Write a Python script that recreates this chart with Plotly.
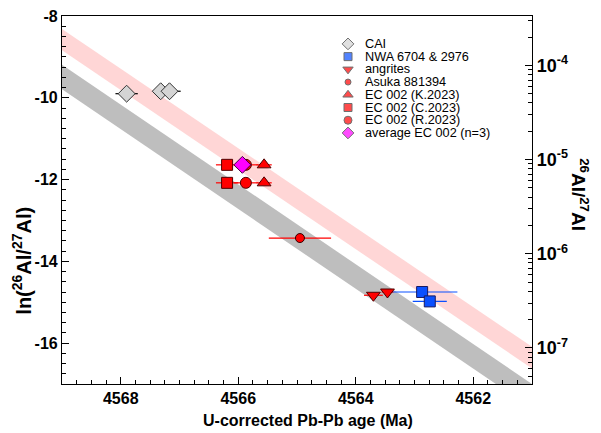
import numpy as np
import plotly.graph_objects as go

# ---------------- data ----------------
cai_age = [4567.90, 4567.32, 4567.17]
cai_err = [0.19, 0.13, 0.19]
cai_ln = [-9.90, -9.84, -9.84]

nwa_age = [4562.87, 4562.74]
nwa_err = [0.60, 0.29]
nwa_ln = [-14.75, -14.98]

ang_age = [4563.70, 4563.46]
ang_err = [0.16, 0.10]
ang_ln = [-14.83, -14.75]

asuka_age = [4564.95]
asuka_err = [0.53]
asuka_ln = [-13.43]

eck_age = [4565.56, 4565.56]
eck_err = [0.13, 0.13]
eck_ln = [-11.64, -12.08]

ecc_age = [4566.19, 4566.19]
ecc_err = [0.19, 0.19]
ecc_ln = [-11.64, -12.08]

ecr_age = [4565.87, 4565.87]
ecr_err = [0.20, 0.20]
ecr_ln = [-11.64, -12.08]

avg_age = [4565.93]
avg_err = [0.08]
avg_ln = [-11.64]

# model bands: values at the two ends of the age axis
band_age = [4569.0, 4561.0]
pink_top = [-8.32, -16.09]
pink_bot = [-8.84, -16.62]
gray_top = [-9.19, -17.00]
gray_bot = [-9.79, -17.60]

legend_labels = ["CAI", "NWA 6704 & 2976", "angrites", "Asuka 881394",
                 "EC 002 (K.2023)", "EC 002 (C.2023)", "EC 002 (R.2023)",
                 "average EC 002 (n=3)"]

x_ticks = [4568, 4566, 4564, 4562]
y_ticks = [-16, -14, -12, -10, -8]
ratio_decades = [-4, -5, -6, -7]

FONT = "Arial, Liberation Sans, sans-serif"
RED = "#ff0000"
BLUE = "#0a50ff"
MAG = "#ff00ff"

fig = go.Figure()

def band(top, bot, color):
    fig.add_trace(go.Scatter(
        x=band_age + band_age[::-1], y=top + bot[::-1],
        fill="toself", fillcolor=color, mode="lines",
        line=dict(width=0), showlegend=False, hoverinfo="skip"))

band(pink_top, pink_bot, "rgba(255,200,200,0.75)")
band(gray_top, gray_bot, "rgb(190,190,190)")

def series(ages, err, lns, symbol, size, color, lcolor, ecolor):
    fig.add_trace(go.Scatter(
        x=ages, y=lns, mode="markers",
        error_x=dict(type="data", array=err, color=ecolor, thickness=1.2, width=0),
        marker=dict(symbol=symbol, size=size, color=color,
                    line=dict(color=lcolor, width=1)),
        showlegend=False))

series(cai_age, cai_err, cai_ln, "diamond", 13, "#d4d4d4", "#333333", "#000000")
series(nwa_age, nwa_err, nwa_ln, "square", 11, BLUE, "#1a1a60", BLUE)
series(ang_age, ang_err, ang_ln, "triangle-down", 12, RED, "#500000", RED)
series(asuka_age, asuka_err, asuka_ln, "circle", 9, RED, "#300000", RED)
series(eck_age, eck_err, eck_ln, "triangle-up", 12, RED, "#500000", RED)
series(ecc_age, ecc_err, ecc_ln, "square", 11, RED, "#500000", RED)
series(ecr_age, ecr_err, ecr_ln, "circle", 11, RED, "#500000", RED)
series(avg_age, avg_err, avg_ln, "diamond", 13, MAG, "#400040", "#400040")

# helper so the right-hand ratio axis is drawn
fig.add_trace(go.Scatter(x=[None], y=[None], yaxis="y2", showlegend=False))

# manual compact legend (on a hidden 0..1 overlay axis)
n = len(legend_labels)
leg_y = [1 - (36.5 + 13.0 * i - 8) / 376 for i in range(n)]
leg_sym = ["diamond", "square", "triangle-down", "circle", "triangle-up",
           "square", "circle", "diamond"]
leg_col = ["#d4d4d4", BLUE, RED, RED, RED, RED, RED, MAG]
leg_size = [9, 8, 9, 6, 9, 8, 8, 9]
leg_x = 0.6085
fig.add_trace(go.Scatter(
    x=[leg_x] * n, y=leg_y, xaxis="x2", yaxis="y3", mode="markers",
    marker=dict(symbol=leg_sym, color=leg_col, size=leg_size,
                line=dict(color="#333333", width=1)),
    showlegend=False, hoverinfo="skip"))

annotations = []
for lab, yy in zip(legend_labels, leg_y):
    annotations.append(dict(text=lab, x=0.640, y=yy, xref="paper", yref="paper",
                            xanchor="left", yanchor="middle", showarrow=False,
                            font=dict(family=FONT, size=12.7, color="#000")))

# axis titles
annotations.append(dict(text="U-corrected Pb-Pb age (Ma)", x=(308 - 62) / 470,
                        y=(384 - 421.5) / 376, xref="paper", yref="paper",
                        xanchor="center", yanchor="middle", showarrow=False,
                        font=dict(family=FONT, size=16, color="#000", weight="bold")))
annotations.append(dict(text="ln(<sup>26</sup>Al/<sup>27</sup>Al)", x=(22 - 62) / 470,
                        y=1 - (258 - 8) / 376, xref="paper", yref="paper",
                        xanchor="center", yanchor="middle", showarrow=False, textangle=-90,
                        font=dict(family=FONT, size=20, color="#000", weight="bold")))
annotations.append(dict(text="<sup>26</sup>Al/<sup>27</sup>Al", x=(580 - 62) / 470,
                        y=1 - (190 - 8) / 376, xref="paper", yref="paper",
                        xanchor="center", yanchor="middle", showarrow=False, textangle=90,
                        font=dict(family=FONT, size=19, color="#000", weight="bold")))

tickfont = dict(family=FONT, size=16, color="#000", weight="bold")
axis_common = dict(showgrid=False, zeroline=False, showline=True, linecolor="#000",
                   linewidth=1.2, ticks="inside", ticklen=7, tickwidth=1,
                   tickcolor="#000", ticklabeloverflow="allow")

ln_major = [float(np.log(10.0 ** k)) for k in ratio_decades]
ln_minor = []
for k in range(-8, -3):
    for m in range(2, 10):
        v = float(np.log(m * 10.0 ** k))
        if -17 <= v <= -8:
            ln_minor.append(v)

fig.update_layout(
    width=601, height=433,
    margin=dict(l=62, r=69, t=8, b=49),
    paper_bgcolor="white", plot_bgcolor="white",
    font=dict(family=FONT, color="#000"),
    showlegend=False,
    xaxis=dict(range=[4569, 4561], tickmode="array", tickvals=x_ticks,
               ticktext=[str(v) for v in x_ticks], mirror=True, tickfont=tickfont,
               minor=dict(dtick=0.25, tick0=4561, ticks="inside", ticklen=4,
                          tickcolor="#000", showgrid=False),
               **axis_common),
    yaxis=dict(range=[-17, -8], tickmode="array", tickvals=y_ticks,
               ticktext=[str(v) for v in y_ticks], tickfont=tickfont,
               minor=dict(dtick=0.25, tick0=-8, ticks="inside", ticklen=4,
                          tickcolor="#000", showgrid=False),
               **axis_common),
    yaxis2=dict(range=[-17, -8], overlaying="y", side="right", tickmode="array",
                tickvals=ln_major,
                ticktext=["10<sup>%d</sup>" % k for k in ratio_decades],
                tickfont=dict(family=FONT, size=18, color="#000", weight="bold"),
                minor=dict(tickmode="array", tickvals=ln_minor, ticks="inside",
                           ticklen=4, tickcolor="#000", showgrid=False),
                **axis_common),
    xaxis2=dict(range=[0, 1], overlaying="x", visible=False),
    yaxis3=dict(range=[0, 1], overlaying="y", visible=False),
    annotations=annotations,
)

fig.write_html("out.html")
